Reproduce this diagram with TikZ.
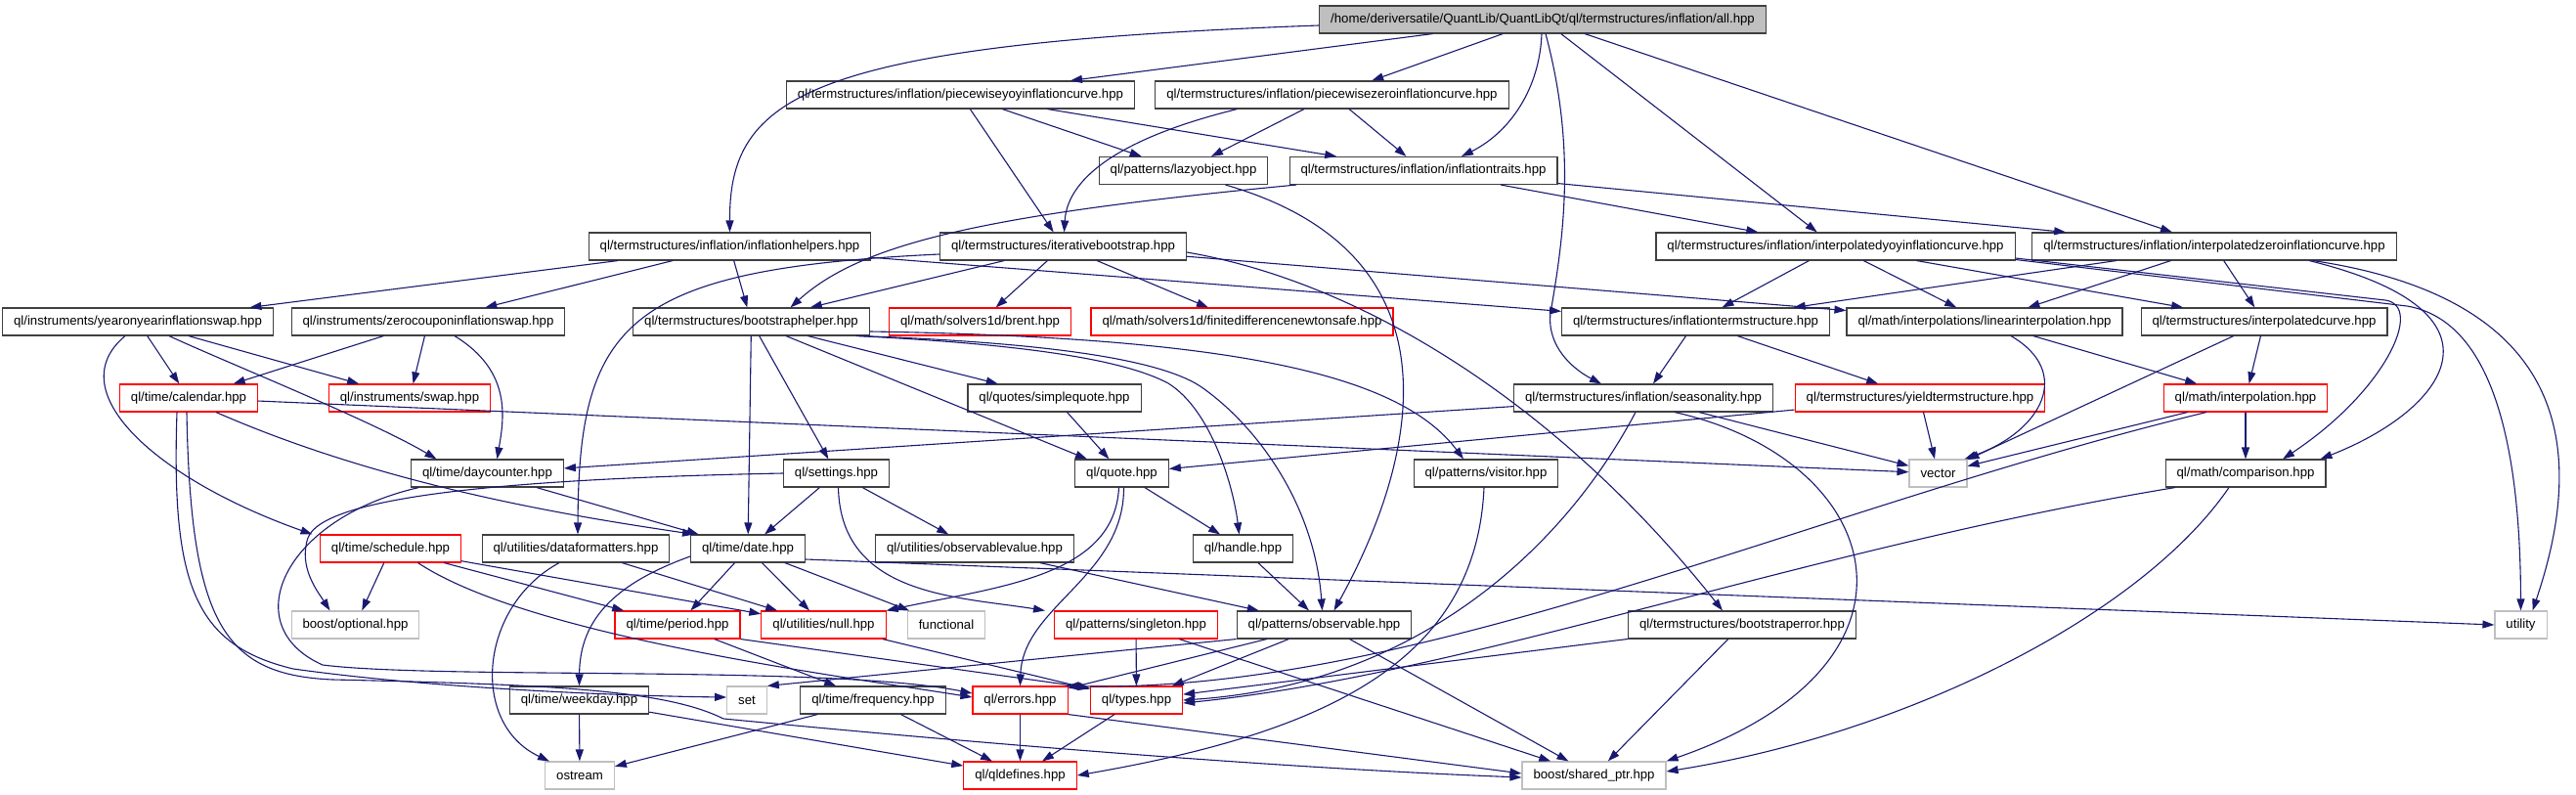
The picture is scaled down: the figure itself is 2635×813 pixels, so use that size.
\documentclass[tikz,border=0pt]{standalone}
\usepackage{fontspec}
\setmainfont{Liberation Sans}
\usetikzlibrary{arrows.meta, positioning}
\definecolor{edgeblue}{HTML}{191970}
\definecolor{boxgray}{HTML}{BFBFBF}
\definecolor{boxred}{HTML}{FF0000}

\begin{document}
\begin{tikzpicture}[
    x=1pt, y=-1pt,
    >={Triangle[length=12pt, width=8pt]},
    file/.style={draw=black!75, line width=1.1pt, rectangle, minimum height=28pt, inner xsep=11.5pt, inner ysep=0pt, font=\fontsize{13.2}{15}\selectfont},
    redfile/.style={file, draw=boxred},
    sysfile/.style={file, draw=boxgray},
    rootfile/.style={file, fill=boxgray},
    dep/.style={->, draw=edgeblue, line width=1.1pt}
]
    \useasboundingbox (0,0) rectangle (2635,813);

    % Arquivos, nivel por nivel
    \node[rootfile] (root) at (1578,20) {/home/deriversatile/QuantLib/QuantLibQt/ql/termstructures/inflation/all.hpp};

    \node[file] (pwyoy) at (982.5,97) {ql/termstructures/inflation/piecewiseyoyinflationcurve.hpp};
    \node[file] (pwzero) at (1362.5,97) {ql/termstructures/inflation/piecewisezeroinflationcurve.hpp};

    \node[file] (lazy) at (1210.5,174.5) {ql/patterns/lazyobject.hpp};
    \node[file] (infltraits) at (1456,174.5) {ql/termstructures/inflation/inflationtraits.hpp};

    \node[file] (inflhelpers) at (746.5,252) {ql/termstructures/inflation/inflationhelpers.hpp};
    \node[file] (itboot) at (1087.5,252) {ql/termstructures/iterativebootstrap.hpp};
    \node[file] (interpyoy) at (1877.5,252) {ql/termstructures/inflation/interpolatedyoyinflationcurve.hpp};
    \node[file] (interpzero) at (2265,252) {ql/termstructures/inflation/interpolatedzeroinflationcurve.hpp};

    \node[file] (yoyswap) at (141,329) {ql/instruments/yearonyearinflationswap.hpp};
    \node[file] (zcswap) at (438,329) {ql/instruments/zerocouponinflationswap.hpp};
    \node[file] (bshelper) at (768.5,329) {ql/termstructures/bootstraphelper.hpp};
    \node[redfile] (brent) at (1002.5,329) {ql/math/solvers1d/brent.hpp};
    \node[redfile] (fdnewton) at (1270.5,329) {ql/math/solvers1d/finitedifferencenewtonsafe.hpp};
    \node[file] (infltermstr) at (1734.5,329) {ql/termstructures/inflationtermstructure.hpp};
    \node[file] (linearinterp) at (2030,329) {ql/math/interpolations/linearinterpolation.hpp};
    \node[file] (interpcurve) at (2316,329) {ql/termstructures/interpolatedcurve.hpp};

    \node[redfile] (calendar) at (193,407) {ql/time/calendar.hpp};
    \node[redfile] (swap) at (419,407) {ql/instruments/swap.hpp};
    \node[file] (simplequote) at (1078.5,407) {ql/quotes/simplequote.hpp};
    \node[file] (seasonality) at (1681,407) {ql/termstructures/inflation/seasonality.hpp};
    \node[redfile] (yieldtermstr) at (1964,407) {ql/termstructures/yieldtermstructure.hpp};
    \node[redfile] (interpolation) at (2297,407) {ql/math/interpolation.hpp};

    \node[file] (daycounter) at (498.5,484) {ql/time/daycounter.hpp};
    \node[file] (settings) at (855.5,484) {ql/settings.hpp};
    \node[file] (quote) at (1147.5,484) {ql/quote.hpp};
    \node[file] (visitor) at (1520,484) {ql/patterns/visitor.hpp};
    \node[sysfile] (vector) at (1982.5,484) {vector};
    \node[file] (comparison) at (2297,484) {ql/math/comparison.hpp};

    \node[redfile] (schedule) at (399.5,561) {ql/time/schedule.hpp};
    \node[file] (dataformatters) at (589,561) {ql/utilities/dataformatters.hpp};
    \node[file] (date) at (765,561) {ql/time/date.hpp};
    \node[file] (obsvalue) at (997,561) {ql/utilities/observablevalue.hpp};
    \node[file] (handle) at (1271.5,561) {ql/handle.hpp};

    \node[sysfile] (optional) at (363.5,639) {boost/optional.hpp};
    \node[redfile] (period) at (693,639) {ql/time/period.hpp};
    \node[redfile] (null) at (842.5,639) {ql/utilities/null.hpp};
    \node[sysfile] (functional) at (968,639) {functional};
    \node[redfile] (singleton) at (1162,639) {ql/patterns/singleton.hpp};
    \node[file] (observable) at (1354.5,639) {ql/patterns/observable.hpp};
    \node[file] (bserror) at (1782,639) {ql/termstructures/bootstraperror.hpp};
    \node[sysfile] (utility) at (2578.5,639) {utility};

    \node[file] (weekday) at (592.5,716) {ql/time/weekday.hpp};
    \node[sysfile] (set) at (764,716) {set};
    \node[file] (frequency) at (893,716) {ql/time/frequency.hpp};
    \node[redfile] (errors) at (1043.5,716) {ql/errors.hpp};
    \node[redfile] (types) at (1162.5,716) {ql/types.hpp};

    \node[sysfile] (ostream) at (593,793) {ostream};
    \node[redfile] (qldefines) at (1043.5,793) {ql/qldefines.hpp};
    \node[sysfile] (sharedptr) at (1630.5,793) {boost/shared\_ptr.hpp};

    % all.hpp
    \draw[dep] ([yshift=-6pt]root.west) .. controls (820,45) and (746,100) .. (inflhelpers.north);
    \draw[dep] (root) -- (pwyoy);
    \draw[dep] (root) -- (pwzero);
    \draw[dep] ([xshift=-1pt]root.south) .. controls (1575,90) and (1545,135) .. ([xshift=39pt]infltraits.north);
    \draw[dep] ([xshift=3pt]root.south) .. controls (1612,150) and (1600,240) .. (1586,320) .. controls (1582,355) and (1610,378) .. ([xshift=-43pt]seasonality.north);
    \draw[dep] (root) -- (interpyoy);
    \draw[dep] (root) -- (interpzero);

    % curvas piecewise
    \draw[dep] (pwyoy) -- (itboot);
    \draw[dep] (pwyoy) -- (lazy);
    \draw[dep] (pwyoy) -- (infltraits);
    \draw[dep] ([xshift=-97pt]pwzero.south) .. controls (1150,140) and (1092,180) .. ([xshift=1pt]itboot.north);
    \draw[dep] (pwzero) -- (lazy);
    \draw[dep] (pwzero) -- (infltraits);

    % lazyobject e inflationtraits
    \draw[dep] ([xshift=43pt]lazy.south) .. controls (1500,260) and (1450,470) .. ([xshift=10pt]observable.north);
    \draw[dep] ([xshift=-130pt]infltraits.south) .. controls (1000,220) and (880,250) .. ([xshift=40pt]bshelper.north);
    \draw[dep] (infltraits) -- (interpyoy);
    \draw[dep] (infltraits) -- (interpzero);

    % inflationhelpers
    \draw[dep] (inflhelpers) -- (yoyswap);
    \draw[dep] (inflhelpers) -- (zcswap);
    \draw[dep] (inflhelpers) -- (bshelper);
    \draw[dep] (inflhelpers) -- (infltermstr);

    % iterativebootstrap
    \draw[dep] (itboot) -- (bshelper);
    \draw[dep] (itboot) -- (brent);
    \draw[dep] (itboot) -- (fdnewton);
    \draw[dep] (itboot) -- (linearinterp);
    \draw[dep] ([yshift=-6pt]itboot.east) .. controls (1400,290) and (1600,420) .. ([xshift=-20pt]bserror.north);
    \draw[dep] ([yshift=-8pt]itboot.west) .. controls (640,275) and (592,330) .. ([xshift=2pt]dataformatters.north);

    % curvas interpoladas
    \draw[dep] (interpyoy) -- (infltermstr);
    \draw[dep] (interpyoy) -- (linearinterp);
    \draw[dep] (interpyoy) -- (interpcurve);
    \draw[dep] ([yshift=-12pt]interpyoy.east) -- (2440,307) .. controls (2480,313) and (2440,400) .. ([xshift=38pt]comparison.north);
    \draw[dep] ([yshift=-13.5pt]interpyoy.east) -- (2462,313) .. controls (2540,326) and (2578,430) .. (utility.north);
    \draw[dep] (interpzero) -- (infltermstr);
    \draw[dep] (interpzero) -- (linearinterp);
    \draw[dep] (interpzero) -- (interpcurve);
    \draw[dep] ([xshift=97pt]interpzero.south) .. controls (2580,320) and (2500,420) .. ([xshift=-6pt]comparison.north east);
    \draw[dep] ([xshift=101pt]interpzero.south) .. controls (2590,300) and (2660,420) .. ([xshift=12pt]utility.north);

    % swaps
    \draw[dep] (yoyswap) -- (calendar);
    \draw[dep] (yoyswap) -- (swap);
    \draw[dep] ([xshift=32pt]yoyswap.south) .. controls (230,370) and (380,430) .. ([xshift=-52pt]daycounter.north);
    \draw[dep] ([xshift=-13pt]yoyswap.south) .. controls (60,400) and (160,490) .. ([xshift=-80pt]schedule.north);
    \draw[dep] (zcswap) -- (calendar);
    \draw[dep] (zcswap) -- (swap);
    \draw[dep] ([xshift=27pt]zcswap.south) .. controls (525,380) and (515,430) .. ([xshift=10pt]daycounter.north);

    % bootstraphelper
    \draw[dep] (bshelper) -- (date);
    \draw[dep] (bshelper) -- (settings);
    \draw[dep] (bshelper) -- (simplequote);
    \draw[dep] (bshelper) -- (quote);
    \draw[dep] ([xshift=107pt]bshelper.south) .. controls (1050,352) and (1150,368) .. (1195,392) .. controls (1240,420) and (1262,500) .. ([xshift=-4pt]handle.north);
    \draw[dep] ([xshift=111pt]bshelper.south) .. controls (1060,350) and (1190,366) .. (1232,398) .. controls (1290,440) and (1345,520) .. ([xshift=-2pt]observable.north);
    \draw[dep] ([yshift=-10pt]bshelper.east) .. controls (1250,345) and (1430,380) .. ([xshift=-23pt]visitor.north);

    % term structures
    \draw[dep] (infltermstr) -- (seasonality);
    \draw[dep] (infltermstr) -- (yieldtermstr);
    \draw[dep] (linearinterp) -- (interpolation);
    \draw[dep] ([xshift=27pt]linearinterp.south) .. controls (2120,380) and (2090,440) .. ([xshift=-3pt]vector.north east);
    \draw[dep] (interpcurve) -- (interpolation);
    \draw[dep] (interpcurve) -- (vector);
    \draw[dep] (yieldtermstr) -- (vector);
    \draw[dep] (yieldtermstr) -- (quote);
    \draw[dep] (seasonality) -- (daycounter);
    \draw[dep] (seasonality) -- (vector);
    \draw[dep] ([xshift=32pt]seasonality.south) .. controls (1930,470) and (1990,680) .. (sharedptr.north east);
    \draw[dep] ([xshift=-8pt]seasonality.south) .. controls (1600,560) and (1450,700) .. (types.east);

    % interpolation e comparison
    \draw[dep] (interpolation) -- (comparison);
    \draw[dep] (interpolation) -- (vector);
    \draw[dep] ([xshift=-40pt]interpolation.south) .. controls (1850,520) and (1450,710) .. ([xshift=-2pt]errors.north east);
    \draw[dep] ([xshift=-72pt]comparison.south) .. controls (1850,560) and (1500,690) .. ([yshift=-3pt]types.east);
    \draw[dep] ([xshift=-17pt]comparison.south) .. controls (2190,630) and (1950,750) .. ([yshift=4pt]sharedptr.east);

    % calendar e daycounter
    \draw[dep] (calendar) -- (vector);
    \draw[dep] ([xshift=28pt]calendar.south) .. controls (400,500) and (600,530) .. ([xshift=-55pt]date.north);
    \draw[dep] ([xshift=-12pt]calendar.south) .. controls (175,600) and (200,660) .. (300,684) .. controls (450,705) and (650,712) .. ([yshift=3pt]set.west);
    \draw[dep] ([xshift=-2pt]calendar.south) .. controls (195,640) and (230,690) .. (340,695) .. controls (560,700) and (680,705) .. (740,735) .. controls (1000,760) and (1300,785) .. ([yshift=-2pt]sharedptr.west);
    \draw[dep] (daycounter) -- (date);
    \draw[dep] ([xshift=-70pt]daycounter.south) .. controls (290,530) and (240,640) .. (330,680) .. controls (450,695) and (850,680) .. ([yshift=7pt]errors.west);

    % schedule, settings, quote
    \draw[dep] (schedule) -- (optional);
    \draw[dep] (schedule) -- (period);
    \draw[dep] (schedule) -- (null);
    \draw[dep] ([xshift=28pt]schedule.south) .. controls (540,650) and (850,690) .. ([yshift=3pt]errors.west);
    \draw[dep] (settings) -- (date);
    \draw[dep] (settings) -- (obsvalue);
    \draw[dep] ([xshift=2pt]settings.south) .. controls (860,610) and (980,610) .. ([xshift=-93pt]singleton.north);
    \draw[dep] (settings.west) .. controls (500,490) and (330,510) .. (315,550) .. controls (305,580) and (325,605) .. ([xshift=-26pt]optional.north);
    \draw[dep] (simplequote) -- (quote);
    \draw[dep] (quote) -- (handle);
    \draw[dep] ([xshift=-3pt]quote.south) .. controls (1140,590) and (1020,600) .. (null.north east);
    \draw[dep] ([xshift=2pt]quote.south) .. controls (1150,590) and (1046,620) .. (errors.north);

    % utilities e date
    \draw[dep] ([xshift=-17pt]dataformatters.south) .. controls (490,620) and (480,740) .. ([xshift=-31pt]ostream.north);
    \draw[dep] (dataformatters) -- (null);
    \draw[dep] (date) -- (period);
    \draw[dep] (date) -- (null);
    \draw[dep] (date) -- (functional);
    \draw[dep] ([yshift=-11pt]date.east) -- (utility.west);
    \draw[dep] ([yshift=-8pt]date.west) .. controls (620,600) and (593,640) .. (weekday.north);
    \draw[dep] (obsvalue) -- (observable);
    \draw[dep] (handle) -- (observable);

    % base
    \draw[dep] (period) -- (frequency);
    \draw[dep] (period.south east) -- ([yshift=-2pt]types.north west);
    \draw[dep] (null) -- (types);
    \draw[dep] (singleton) -- (types);
    \draw[dep] (singleton) -- (sharedptr);
    \draw[dep] (observable.south west) -- (set.north east);
    \draw[dep] (observable) -- (errors);
    \draw[dep] (observable) -- (types);
    \draw[dep] (observable) -- (sharedptr);
    \draw[dep] (bserror) -- (types);
    \draw[dep] (bserror) -- (sharedptr);
    \draw[dep] ([xshift=-2pt]visitor.south) .. controls (1510,680) and (1350,750) .. (qldefines.east);
    \draw[dep] (frequency) -- (ostream);
    \draw[dep] (frequency) -- (qldefines);
    \draw[dep] (errors) -- (qldefines);
    \draw[dep] (errors.south east) -- ([yshift=2pt]sharedptr.west);
    \draw[dep] (types) -- (qldefines);
    \draw[dep] (weekday) -- (ostream);
    \draw[dep] (weekday) -- (qldefines);

\end{tikzpicture}
\end{document}
